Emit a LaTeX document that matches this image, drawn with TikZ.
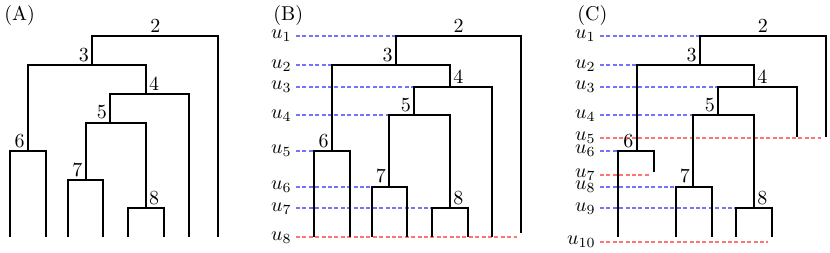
\documentclass[tikz,border=0pt]{standalone}
\usepackage{xcolor}
\usepackage{tikz}
\usetikzlibrary{positioning}
\definecolor{tree}{HTML}{000000}
\definecolor{cutblue}{HTML}{7373FF}
\definecolor{cutred}{HTML}{FF7373}

\begin{document}
\begin{tikzpicture}[x=0.5pt, y=-0.5pt,
  branch/.style={draw=tree, line width=1pt},
  lvl/.style={dash pattern=on 2pt off 1.2pt, line width=0.85pt},
  merged/.style={lvl, draw=cutblue},
  cut/.style={lvl, draw=cutred},
  numl/.style={anchor=south east, inner sep=1.5pt},
  numr/.style={anchor=south west, inner sep=1.5pt},
  numc/.style={anchor=south, inner sep=1.5pt},
  ulab/.style={anchor=east, inner sep=2pt},
  panel/.style={anchor=west, inner sep=0pt}
]
\useasboundingbox (0,0) rectangle (830,252);

\node[panel] (pa) at (4,15.5) {(A)};
\node[panel] (pb) at (273,15.5) {(B)};
\node[panel] (pc) at (577,15.5) {(C)};

\coordinate (a2) at (155.3,36);
\coordinate (a3) at (92.3,65.3);
\coordinate (a4) at (145.7,94);
\coordinate (a5) at (110.3,122.7);
\coordinate (a6) at (28,151);
\coordinate (a7) at (85.7,180);
\coordinate (a8) at (145.7,208.3);
\coordinate (aL1) at (9.7,236.7);
\coordinate (aL2) at (46,236.7);
\coordinate (aL3) at (67.7,236.7);
\coordinate (aL4) at (103.3,236.7);
\coordinate (aL5) at (128.3,236.7);
\coordinate (aL6) at (164,236.7);
\coordinate (aL7) at (189,236.7);
\coordinate (aL8) at (218.3,236.7);

\draw[branch] (a3) |- (a2) -| (aL8);
\draw[branch] (a6) |- (a3) -| (a4);
\draw[branch] (a5) |- (a4) -| (aL7);
\draw[branch] (a7) |- (a5) -| (a8);
\draw[branch] (aL1) |- (a6) -| (aL2);
\draw[branch] (aL3) |- (a7) -| (aL4);
\draw[branch] (aL5) |- (a8) -| (aL6);

\node[numc] (ta2) at (a2) {2};
\node[numl] (ta3) at (a3) {3};
\node[numr] (ta4) at (a4) {4};
\node[numl] (ta5) at (a5) {5};
\node[numl] (ta6) at (a6) {6};
\node[numl] (ta7) at (a7) {7};
\node[numr] (ta8) at (a8) {8};

\coordinate (b2) at (458.5,36);
\coordinate (b3) at (396,65.3);
\coordinate (b4) at (450,86.7);
\coordinate (b5) at (414.3,115.3);
\coordinate (b6) at (332,151);
\coordinate (b7) at (389.3,186.7);
\coordinate (b8) at (450,208.3);
\coordinate (bL1) at (314,236.7);
\coordinate (bL2) at (349.7,236.7);
\coordinate (bL3) at (371.7,236.7);
\coordinate (bL4) at (407,236.7);
\coordinate (bL5) at (432.3,236.7);
\coordinate (bL6) at (468,236.7);
\coordinate (bL7) at (492.3,236.7);
\coordinate (bL8) at (521,232.7);
\coordinate (bend) at (517,237.3);

\node[ulab] (bu1) at (296,36) {$u_1$};
\node[ulab] (bu2) at (296,65.3) {$u_2$};
\node[ulab] (bu3) at (296,86.7) {$u_3$};
\node[ulab] (bu4) at (296,115.3) {$u_4$};
\node[ulab] (bu5) at (296,151) {$u_5$};
\node[ulab] (bu6) at (296,186.7) {$u_6$};
\node[ulab] (bu7) at (296,208.3) {$u_7$};
\node[ulab] (bu8) at (296,237.3) {$u_8$};

\draw[merged] (bu1) -- (b3 |- b2);
\draw[merged] (bu2) -- (b6 |- b3);
\draw[merged] (bu3) -- (b5 |- b4);
\draw[merged] (bu4) -- (b7 |- b5);
\draw[merged] (bu5) -- (bL1 |- b6);
\draw[merged] (bu6) -- (bL3 |- b7);
\draw[merged] (bu7) -- (bL5 |- b8);
\draw[cut] (bu8) -- (bend);

\draw[branch] (b3) |- (b2) -| (bL8);
\draw[branch] (b6) |- (b3) -| (b4);
\draw[branch] (b5) |- (b4) -| (bL7);
\draw[branch] (b7) |- (b5) -| (b8);
\draw[branch] (bL1) |- (b6) -| (bL2);
\draw[branch] (bL3) |- (b7) -| (bL4);
\draw[branch] (bL5) |- (b8) -| (bL6);

\node[numc] (tb2) at (b2) {2};
\node[numl] (tb3) at (b3) {3};
\node[numr] (tb4) at (b4) {4};
\node[numl] (tb5) at (b5) {5};
\node[numl] (tb6) at (b6) {6};
\node[numl] (tb7) at (b7) {7};
\node[numr] (tb8) at (b8) {8};

\coordinate (c2) at (762.9,36);
\coordinate (c3) at (700,65.3);
\coordinate (c4) at (754,86.7);
\coordinate (c5) at (718.3,115.3);
\coordinate (c6) at (636.7,151);
\coordinate (c7) at (693.3,186.7);
\coordinate (c8) at (754,208.3);
\coordinate (cL1) at (618.3,236.7);
\coordinate (cL2) at (654,171.7);
\coordinate (cL3) at (675.7,236.7);
\coordinate (cL4) at (711.7,236.7);
\coordinate (cL5) at (736,236.7);
\coordinate (cL6) at (772,236.7);
\coordinate (cL7) at (797.3,136.7);
\coordinate (cL8) at (825.7,136.7);
\coordinate (cend5) at (821,137.7);
\coordinate (cend7) at (650,175);
\coordinate (cend10) at (768.3,241.7);

\node[ulab] (cu1) at (600,36) {$u_1$};
\node[ulab] (cu2) at (600,65.3) {$u_2$};
\node[ulab] (cu3) at (600,86.7) {$u_3$};
\node[ulab] (cu4) at (600,115.3) {$u_4$};
\node[ulab] (cu5) at (600,137.7) {$u_5$};
\node[ulab] (cu6) at (600,151) {$u_6$};
\node[ulab] (cu7) at (600,175) {$u_7$};
\node[ulab] (cu8) at (600,186.7) {$u_8$};
\node[ulab] (cu9) at (600,208.3) {$u_9$};
\node[ulab] (cu10) at (600,241.7) {$u_{10}$};

\draw[merged] (cu1) -- (c3 |- c2);
\draw[merged] (cu2) -- (c6 |- c3);
\draw[merged] (cu3) -- (c5 |- c4);
\draw[merged] (cu4) -- (c7 |- c5);
\draw[cut] (cu5) -- (cend5);
\draw[merged] (cu6) -- (cL1 |- c6);
\draw[cut] (cu7) -- (cend7);
\draw[merged] (cu8) -- (cL3 |- c7);
\draw[merged] (cu9) -- (cL5 |- c8);
\draw[cut] (cu10) -- (cend10);

\draw[branch] (c3) |- (c2) -| (cL8);
\draw[branch] (c6) |- (c3) -| (c4);
\draw[branch] (c5) |- (c4) -| (cL7);
\draw[branch] (c7) |- (c5) -| (c8);
\draw[branch] (cL1) |- (c6) -| (cL2);
\draw[branch] (cL3) |- (c7) -| (cL4);
\draw[branch] (cL5) |- (c8) -| (cL6);

\node[numc] (tc2) at (c2) {2};
\node[numl] (tc3) at (c3) {3};
\node[numr] (tc4) at (c4) {4};
\node[numl] (tc5) at (c5) {5};
\node[numl] (tc6) at (c6) {6};
\node[numl] (tc7) at (c7) {7};
\node[numr] (tc8) at (c8) {8};
\end{tikzpicture}
\end{document}
